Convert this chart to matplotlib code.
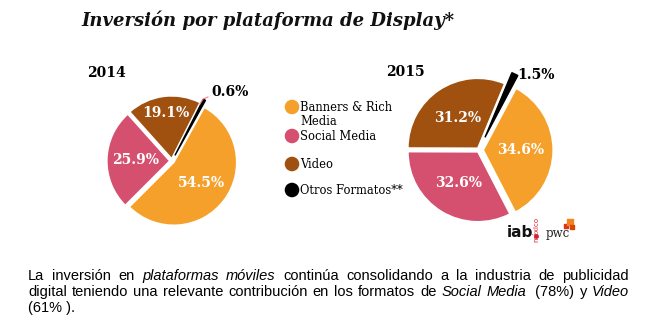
import numpy as np
import matplotlib
matplotlib.use("Agg")
import matplotlib.pyplot as plt

W, H = 665, 322
DPI = 100

categories = ["Banners & Rich\nMedia", "Social Media", "Video", "Otros Formatos**"]
colors = ["#F5A02A", "#D5506F", "#A0500F", "#000000"]
vals_2014 = [54.5, 25.9, 19.1, 0.6]
vals_2015 = [34.6, 32.6, 31.2, 1.5]
labels_2014 = ["54.5%", "25.9%", "19.1%", "0.6%"]
labels_2015 = ["34.6%", "32.6%", "31.2%", "1.5%"]
title = "Inversión por plataforma de Display*"

fig = plt.figure(figsize=(W / DPI, H / DPI), dpi=DPI)
fig.patch.set_facecolor("white")

SERIF = ["DejaVu Serif"]


def pie_axes(cx, cy, R, k=1.6):
    side = 2 * k * R
    left = (cx - side / 2) / W
    bottom = (H - (cy + side / 2)) / H
    ax = fig.add_axes([left, bottom, side / W, side / H])
    return ax, k


def draw_pie(cx, cy, R, vals, labels, explode, dists, start):
    ax, k = pie_axes(cx, cy, R)
    wedges, _ = ax.pie(vals, colors=colors, startangle=start, counterclock=False,
                       explode=explode, radius=1.0,
                       wedgeprops=dict(edgecolor="white", linewidth=1.2))
    wedges[3].set_edgecolor("black")
    wedges[3].set_linewidth(1.0)
    ax.set_xlim(-k, k)
    ax.set_ylim(-k, k)
    ax.set_aspect("equal")
    ax.axis("off")
    total = sum(vals)
    cum = 0
    mids = []
    for v in vals:
        mid = start - 360 * (cum + v / 2) / total
        mids.append(mid)
        cum += v
    for i in range(3):
        a = np.deg2rad(mids[i])
        r = explode[i] + dists[i]
        ax.text(r * np.cos(a), r * np.sin(a), labels[i], color="white",
                fontsize=10, fontweight="bold", family=SERIF,
                ha="center", va="center")
    return ax, mids


ax14, mids14 = draw_pie(172, 161, 63, vals_2014, labels_2014,
                        [0.035, 0.035, 0.035, 0.10], [0.55, 0.55, 0.74], 61)
ax15, mids15 = draw_pie(479, 150, 70, vals_2015, labels_2015,
                        [0.06, 0.03, 0.03, 0.20], [0.53, 0.53, 0.52], 62)

# overlay axes in pixel coordinates (y down)
ov = fig.add_axes([0, 0, 1, 1])
ov.set_xlim(0, W)
ov.set_ylim(H, 0)
ov.axis("off")

ov.text(268, 20, title, fontsize=13, fontweight="bold", style="italic",
        family=SERIF, ha="center", va="center", color="#111111")

ov.text(106, 73, "2014", fontsize=10, fontweight="bold", family=SERIF,
        ha="center", va="center")
ov.text(405, 72, "2015", fontsize=10, fontweight="bold", family=SERIF,
        ha="center", va="center")

# small value labels
ov.text(230, 92, labels_2014[3], fontsize=10, fontweight="bold", family=SERIF,
        ha="center", va="center")
ov.plot([200, 203, 208], [104, 99, 97], color="#F08090", lw=0.8)
ov.text(536, 75, labels_2015[3], fontsize=10, fontweight="bold", family=SERIF,
        ha="center", va="center")

# legend
leg_y = [107, 136, 164, 190]
for c, lab, y in zip(colors, categories, leg_y):
    ov.scatter([292], [y], s=110, color=c, edgecolors="none")
    if "\n" in lab:
        ov.text(300, y - 6, lab, fontsize=8.3, family=SERIF, ha="left", va="top",
                linespacing=1.1)
    else:
        ov.text(300, y, lab, fontsize=8.3, family=SERIF, ha="left", va="center")

# logos
ov.text(520, 237, "iab", fontsize=11, fontweight="bold", family=["DejaVu Sans"],
        ha="center", va="baseline", color="#111111")
ov.text(536, 229, "méxico", fontsize=5, family=["DejaVu Sans"], rotation=90,
        ha="center", va="center", color="#D32030")
ov.scatter([536], [236], s=6, color="#D32030")
ov.text(558, 237, "pwc", fontsize=8.5, family=SERIF, ha="center",
        va="baseline", color="#222222")
ov.scatter([566, 570, 572], [226, 222, 227], s=[10, 14, 10],
           color=["#E0301E", "#F58220", "#D04A02"], marker="s")

# bottom paragraph, justified
lines = [
    [("La", 0), ("inversión", 0), ("en", 0), ("plataformas", 1), ("móviles", 1),
     ("continúa", 0), ("consolidando", 0), ("a", 0), ("la", 0), ("industria", 0),
     ("de", 0), ("publicidad", 0)],
    [("digital", 0), ("teniendo", 0), ("una", 0), ("relevante", 0),
     ("contribución", 0), ("en", 0), ("los", 0), ("formatos", 0), ("de", 0),
     ("Social", 1), ("Media", 1), (" (78%)", 0), ("y", 0), ("Video", 1)],
]
left_x, right_x = 28, 629
base_y = [280, 296, 312]
FS = 10.5
SANS = ["Liberation Sans"]
fig.canvas.draw()
r = fig.canvas.get_renderer()
for words, by in zip(lines, base_y):
    texts = []
    widths = []
    for w, it in words:
        t = ov.text(0, by, w, fontsize=FS, family=SANS,
                    style="italic" if it else "normal", ha="left", va="baseline")
        texts.append(t)
        widths.append(t.get_window_extent(r).width)
    gap = (right_x - left_x - sum(widths)) / (len(words) - 1)
    x = left_x
    for t, wd in zip(texts, widths):
        t.set_x(x)
        x += wd + gap
ov.text(left_x, base_y[2], "(61% ).", fontsize=FS, family=SANS, ha="left",
        va="baseline")

fig.savefig("out.png", dpi=DPI, facecolor="white")
